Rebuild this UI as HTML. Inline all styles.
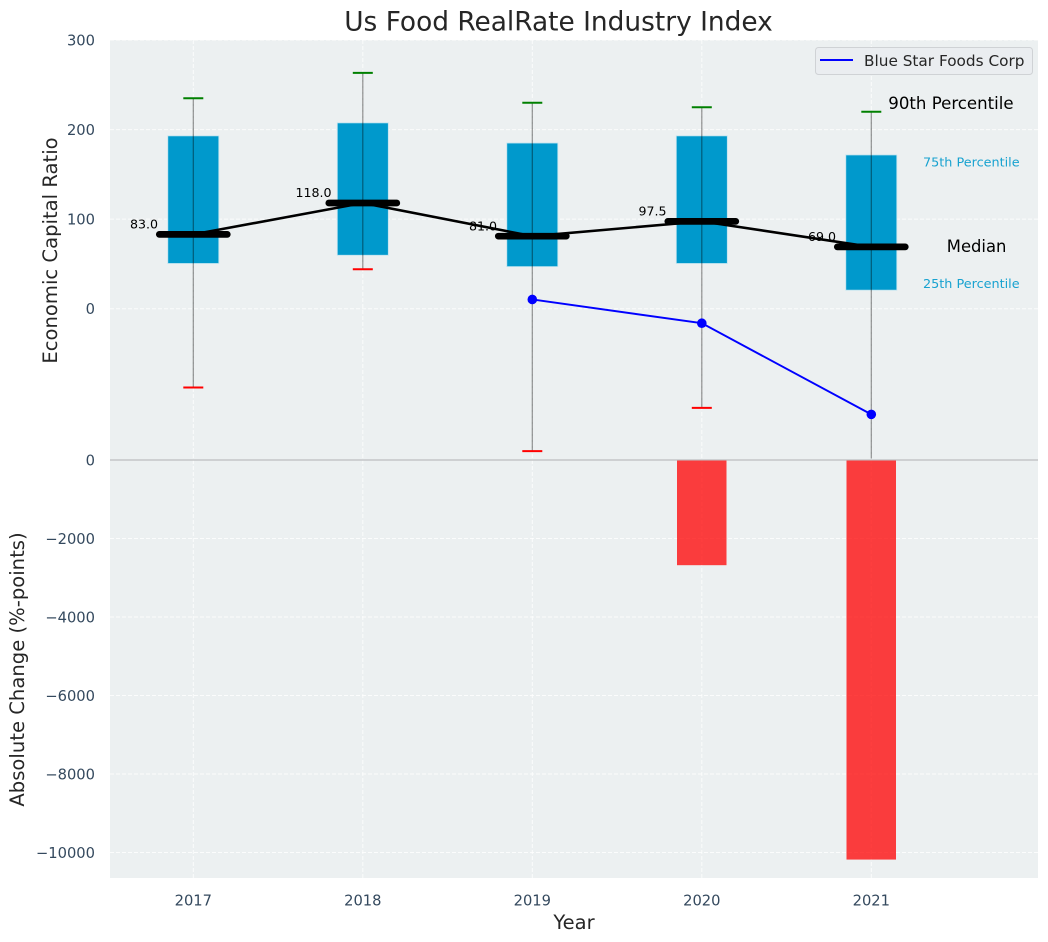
<!DOCTYPE html>
<html>
<head>
<meta charset="utf-8">
<title>Us Food RealRate Industry Index</title>
<style>
html,body{margin:0;padding:0;background:#fff;width:1048px;height:942px;overflow:hidden}
svg{display:block}
text{font-family:"DejaVu Sans","Liberation Sans",sans-serif}
</style>
</head>
<body>
<svg id="chart" xmlns="http://www.w3.org/2000/svg" width="1048" height="942" viewBox="0 0 1048 942">
<defs><clipPath id="upper-clip"><rect x="110" y="40" width="928" height="418.5"></rect></clipPath></defs>
</svg>
<script>
const years = [2017, 2018, 2019, 2020, 2021];
const p90 = [235, 263.3, 230, 225, 220];
const p75 = [193, 207.5, 185, 193, 171.7];
const medians = [83, 118, 81, 97.5, 69];
const medianLabels = ['83.0', '118.0', '81.0', '97.5', '69.0'];
const p25 = [50.5, 59.7, 47, 50.5, 20.7];
const p10 = [-88, 44, -159, -110.8, -190];
const companyValues = [null, null, 10.3, -16.2, -118];
const changeValues = [null, null, null, -2680, -10180];
const upperTicks = [300, 200, 100, 0];
const lowerTicks = [0, -2000, -4000, -6000, -8000, -10000];

const svg = document.getElementById('chart');
const NS = 'http://www.w3.org/2000/svg';
const xS = v => 193.3 + (v - 2017) * 169.5;
const yU = v => 308.7 - v * 0.8955;
const yLower = v => 460 - v * 0.03925;

function make(tag, attrs, parent) {
  const el = document.createElementNS(NS, tag);
  for (const k in attrs) el.setAttribute(k, attrs[k]);
  (parent || svg).appendChild(el);
  return el;
}
function label(str, attrs, parent) {
  const el = make('text', attrs, parent);
  el.textContent = str;
  return el;
}

const bg = make('rect', {x:110, y:40, width:928, height:838, fill:'#ecf0f1'});



const gridStyle = {stroke:'#ffffff', 'stroke-width':1, 'stroke-dasharray':'4 2', 'stroke-opacity':0.8, fill:'none'};
upperTicks.forEach(t => {
  const g = make('line', Object.assign({x1:110, x2:1038, y1:yU(t), y2:yU(t)}, gridStyle));
  
  
  const tl = label(String(t), {x:95, y:yU(t) + 5.3, 'text-anchor':'end', 'font-size':14.7, fill:'#34495e'});
  
  
});
lowerTicks.forEach(t => {
  const y = yLower(t);
  if (t !== 0) {
    const g = make('line', Object.assign({x1:110, x2:1038, y1:y, y2:y}, gridStyle));
    
    
  }
  const tl = label(String(t).replace('-', '\u2212'), {x:95, y:y + 5.3, 'text-anchor':'end', 'font-size':14.7, fill:'#34495e'});
  
  
});
years.forEach(yr => {
  const g = make('line', Object.assign({x1:xS(yr), x2:xS(yr), y1:40, y2:878}, gridStyle));
  
  
  const tl = label(String(yr), {x:xS(yr), y:905.5, 'text-anchor':'middle', 'font-size':14.7, fill:'#34495e'});
  
  
});

const sep = make('line', {x1:110, x2:1038, y1:460, y2:460, stroke:'#c4c6c8', 'stroke-width':1.5});



years.forEach((yr, i) => {
  if (changeValues[i] === null) return;
  const y = yLower(changeValues[i]);
  const bar = make('rect', {x:xS(yr) - 24.8, y:460.5, width:49.5, height:y - 460.5, fill:'#ff0000', 'fill-opacity':0.75});
  
  
});

const upper = make('g', {'clip-path':'url(#upper-clip)'});



years.forEach((yr, i) => {
  const x = xS(yr);
  const box = make('rect', {x:x - 25.5, y:yU(p75[i]), width:51, height:yU(p25[i]) - yU(p75[i]), fill:'#0099cc', stroke:'#bfe3ef', 'stroke-width':0.8}, upper);
  
  
  const whisker = make('line', {x1:x, x2:x, y1:yU(p90[i]), y2:yU(p10[i]), stroke:'#000000', 'stroke-opacity':0.42, 'stroke-width':1.2}, upper);
  
  
  const capHi = make('line', {x1:x - 10, x2:x + 10, y1:yU(p90[i]), y2:yU(p90[i]), stroke:'#008000', 'stroke-width':2}, upper);
  
  
  const capLo = make('line', {x1:x - 10, x2:x + 10, y1:yU(p10[i]), y2:yU(p10[i]), stroke:'#ff0000', 'stroke-width':2}, upper);
  
  
  const ml = label(medianLabels[i], {x:x - 49.3, y:yU(medians[i]) - 5.8, 'text-anchor':'middle', 'font-size':12.6, fill:'#000000'}, upper);
  
  
});

const medianPts = years.map((yr, i) => xS(yr) + ',' + yU(medians[i])).join(' ');
const medianLine = make('polyline', {points:medianPts, fill:'none', stroke:'#000000', 'stroke-width':2.6}, upper);


years.forEach((yr, i) => {
  const x = xS(yr);
  const bar = make('line', {x1:x - 34, x2:x + 34, y1:yU(medians[i]), y2:yU(medians[i]), stroke:'#000000', 'stroke-width':6.7, 'stroke-linecap':'round'}, upper);
  
  
});

const companyPts = years.map((yr, i) => companyValues[i] === null ? null : xS(yr) + ',' + yU(companyValues[i])).filter(Boolean).join(' ');
const companyLine = make('polyline', {points:companyPts, fill:'none', stroke:'#0000ff', 'stroke-width':1.9}, upper);


years.forEach((yr, i) => {
  if (companyValues[i] === null) return;
  const dot = make('circle', {cx:xS(yr), cy:yU(companyValues[i]), r:4.8, fill:'#0000ff'}, upper);
  
  
});

const lastX = xS(years[years.length - 1]);
const last = years.length - 1;
const a90 = label('90th Percentile', {x:lastX + 17, y:yU(p90[last]) - 2.5, 'font-size':16.6, fill:'#000000'});


const a75 = label('75th Percentile', {x:lastX + 51.7, y:yU(p75[last]) + 11.6, 'font-size':12.8, fill:'#0099cc', 'fill-opacity':0.9});


const aMed = label('Median', {x:lastX + 75.5, y:yU(medians[last]) + 5.3, 'font-size':16.4, fill:'#000000'});


const a25 = label('25th Percentile', {x:lastX + 51.7, y:yU(p25[last]) - 2.2, 'font-size':12.8, fill:'#0099cc', 'fill-opacity':0.9});



const legend = make('g', {});


const lbox = make('rect', {x:815.5, y:47.5, width:217, height:27, rx:3, fill:'#eaedf0', stroke:'#cfd2d5', 'stroke-width':1}, legend);


const lline = make('line', {x1:820, x2:853, y1:60, y2:60, stroke:'#0000ff', 'stroke-width':1.9}, legend);


const ltext = label('Blue Star Foods Corp', {x:864, y:65.8, 'font-size':15.3, fill:'#262626'}, legend);



const title = label('Us Food RealRate Industry Index', {x:558.5, y:30.5, 'text-anchor':'middle', 'font-size':26.4, fill:'#262626'});


const xt = label('Year', {x:574, y:929, 'text-anchor':'middle', 'font-size':19.5, fill:'#262626'});


const yt1 = label('Economic Capital Ratio', {x:0, y:0, transform:'translate(57,250.5) rotate(-90)', 'text-anchor':'middle', 'font-size':19.6, fill:'#262626'});


const yt2 = label('Absolute Change (%-points)', {x:0, y:0, transform:'translate(24,669.5) rotate(-90)', 'text-anchor':'middle', 'font-size':19.6, fill:'#262626'});


</script>
</body>
</html>
